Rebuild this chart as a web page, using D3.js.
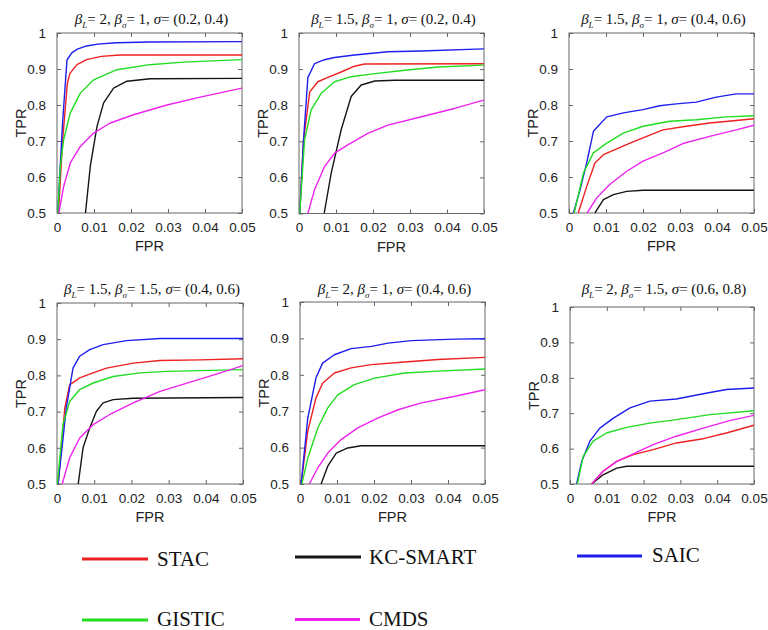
<!DOCTYPE html>
<html>
<head>
<meta charset="utf-8">
<script src="https://cdn.jsdelivr.net/npm/d3@7"></script>
<style>
  html, body { margin: 0; padding: 0; background: #fff; }
  svg { display: block; }
  .serif { font-family: "Liberation Serif", "DejaVu Serif", serif; }
  .sans { font-family: "Liberation Sans", Arial, sans-serif; }
</style>
</head>
<body>
<svg id="chart" width="768" height="630"></svg>
<script>
// ---------- DATA ----------
const methods = ["STAC", "KC-SMART", "SAIC", "GISTIC", "CMDS"];
const methodColors = ["#ee2020", "#151515", "#1e1eee", "#22dd22", "#ee22ee"];

const xTicks = [0, 0.01, 0.02, 0.03, 0.04, 0.05];
const xTickLabels = ["0", "0.01", "0.02", "0.03", "0.04", "0.05"];
const yTicks = [0.5, 0.6, 0.7, 0.8, 0.9, 1];
const yTickLabels = ["0.5", "0.6", "0.7", "0.8", "0.9", "1"];

// titles: [betaL, betaSigma, sigma]
const titleBetaL = ["2", "1.5", "1.5", "1.5", "2", "2"];
const titleBetaS = ["1", "1", "1", "1.5", "1", "1.5"];
const titleSigma = ["(0.2, 0.4)", "(0.2, 0.4)", "(0.4, 0.6)", "(0.4, 0.6)", "(0.4, 0.6)", "(0.6, 0.8)"];

// [FPR, TPR] per panel, series order = methods
const panel1 = [
  [[0.0004,0.5],[0.0015,0.70],[0.0028,0.86],[0.0035,0.888],[0.0054,0.912],[0.008,0.926],[0.012,0.935],[0.017,0.939],[0.05,0.939]],
  [[0.0077,0.5],[0.009,0.63],[0.0108,0.74],[0.0126,0.806],[0.0153,0.847],[0.0189,0.866],[0.0252,0.873],[0.05,0.874]],
  [[0.0002,0.5],[0.0015,0.75],[0.0027,0.925],[0.004,0.945],[0.0055,0.955],[0.008,0.964],[0.011,0.969],[0.016,0.973],[0.025,0.975],[0.05,0.976]],
  [[0.0002,0.5],[0.0009,0.63],[0.0018,0.704],[0.0036,0.778],[0.0063,0.833],[0.0099,0.87],[0.0162,0.898],[0.025,0.912],[0.0342,0.919],[0.05,0.926]],
  [[0.0005,0.5],[0.0018,0.574],[0.0036,0.639],[0.0063,0.685],[0.0099,0.722],[0.0144,0.75],[0.0207,0.773],[0.0297,0.80],[0.0387,0.822],[0.05,0.847]]
];
const panel2 = [
  [[0.0002,0.5],[0.0012,0.70],[0.0029,0.837],[0.0051,0.865],[0.0078,0.877],[0.0114,0.892],[0.015,0.908],[0.0177,0.914],[0.05,0.915]],
  [[0.0068,0.5],[0.0087,0.612],[0.0114,0.732],[0.0141,0.824],[0.0168,0.856],[0.0205,0.867],[0.0259,0.869],[0.05,0.869]],
  [[0.0002,0.5],[0.0012,0.70],[0.0024,0.877],[0.0042,0.915],[0.0069,0.926],[0.0096,0.932],[0.015,0.939],[0.024,0.948],[0.033,0.950],[0.05,0.956]],
  [[0.0002,0.5],[0.0015,0.704],[0.0033,0.787],[0.006,0.833],[0.0096,0.865],[0.0141,0.879],[0.0195,0.886],[0.0286,0.897],[0.0376,0.906],[0.05,0.911]],
  [[0.0024,0.5],[0.0042,0.566],[0.0069,0.63],[0.0096,0.667],[0.0132,0.69],[0.0186,0.722],[0.024,0.745],[0.0331,0.768],[0.042,0.791],[0.05,0.814]]
];
const panel3 = [
  [[0.0025,0.5],[0.0048,0.574],[0.007,0.639],[0.0093,0.662],[0.0129,0.678],[0.0165,0.694],[0.021,0.713],[0.0254,0.731],[0.0317,0.741],[0.038,0.75],[0.0452,0.757],[0.05,0.762]],
  [[0.007,0.5],[0.0093,0.537],[0.012,0.551],[0.0156,0.56],[0.02,0.563],[0.05,0.563]],
  [[0.0012,0.5],[0.003,0.565],[0.0048,0.64],[0.0066,0.727],[0.0102,0.767],[0.0147,0.778],[0.02,0.787],[0.0245,0.798],[0.029,0.803],[0.0344,0.808],[0.0398,0.822],[0.0452,0.831],[0.05,0.831]],
  [[0.0014,0.5],[0.0039,0.611],[0.0066,0.667],[0.0102,0.694],[0.0147,0.722],[0.02,0.741],[0.0272,0.755],[0.0344,0.759],[0.0425,0.767],[0.05,0.77]],
  [[0.0049,0.5],[0.0075,0.542],[0.011,0.579],[0.0156,0.616],[0.02,0.644],[0.0254,0.667],[0.0308,0.693],[0.038,0.713],[0.0452,0.731],[0.05,0.744]]
];
const panel4 = [
  [[0.0003,0.5],[0.0021,0.71],[0.0034,0.774],[0.0061,0.793],[0.0097,0.807],[0.0133,0.82],[0.0205,0.834],[0.0277,0.841],[0.0385,0.843],[0.05,0.846]],
  [[0.0057,0.5],[0.007,0.6],[0.0088,0.655],[0.0106,0.701],[0.0124,0.724],[0.0151,0.733],[0.0205,0.737],[0.05,0.739]],
  [[0.0003,0.5],[0.0025,0.71],[0.0043,0.82],[0.0061,0.853],[0.0088,0.871],[0.0124,0.885],[0.0187,0.896],[0.0277,0.902],[0.05,0.902]],
  [[0.0001,0.5],[0.0016,0.664],[0.0034,0.728],[0.0061,0.761],[0.0097,0.779],[0.0151,0.797],[0.0223,0.807],[0.0295,0.811],[0.05,0.816]],
  [[0.0014,0.5],[0.0034,0.572],[0.0061,0.627],[0.0097,0.664],[0.0142,0.692],[0.0205,0.724],[0.0277,0.756],[0.0367,0.784],[0.0439,0.807],[0.05,0.827]]
];
const panel5 = [
  [[0.0003,0.5],[0.0021,0.645],[0.0043,0.736],[0.0061,0.777],[0.0093,0.805],[0.0138,0.819],[0.0193,0.828],[0.0283,0.835],[0.0373,0.842],[0.05,0.848]],
  [[0.0057,0.5],[0.0075,0.549],[0.0098,0.585],[0.0129,0.599],[0.0165,0.605],[0.05,0.605]],
  [[0.0003,0.5],[0.0021,0.681],[0.0043,0.791],[0.0061,0.832],[0.0093,0.855],[0.0138,0.872],[0.0193,0.878],[0.0238,0.887],[0.0301,0.894],[0.0419,0.898],[0.05,0.899]],
  [[0.0005,0.5],[0.0021,0.571],[0.0048,0.654],[0.0075,0.709],[0.0102,0.745],[0.0147,0.773],[0.0202,0.791],[0.0283,0.805],[0.0373,0.81],[0.05,0.816]],
  [[0.0025,0.5],[0.0048,0.544],[0.0075,0.585],[0.0111,0.622],[0.0156,0.654],[0.021,0.681],[0.0265,0.704],[0.0328,0.723],[0.0419,0.741],[0.05,0.759]]
];
const panel6 = [
  [[0.0059,0.5],[0.009,0.536],[0.0127,0.564],[0.0172,0.583],[0.0226,0.597],[0.0289,0.616],[0.0362,0.628],[0.0425,0.644],[0.05,0.666]],
  [[0.0059,0.5],[0.009,0.526],[0.0127,0.545],[0.0154,0.55],[0.05,0.55]],
  [[0.0018,0.5],[0.0032,0.564],[0.0054,0.621],[0.0081,0.658],[0.0118,0.686],[0.0163,0.715],[0.0217,0.734],[0.0289,0.74],[0.0362,0.755],[0.0425,0.767],[0.05,0.771]],
  [[0.002,0.5],[0.0036,0.578],[0.0063,0.621],[0.0099,0.644],[0.0154,0.66],[0.0217,0.672],[0.0289,0.682],[0.038,0.696],[0.05,0.707]],
  [[0.0059,0.5],[0.009,0.536],[0.0127,0.564],[0.0172,0.585],[0.0226,0.611],[0.0289,0.635],[0.0362,0.658],[0.0434,0.679],[0.05,0.694]]
];
const panels = [panel1, panel2, panel3, panel4, panel5, panel6];

// ---------- LAYOUT ----------
const boxes = [
  {l: 57,  r: 242, t: 33,  b: 213, ty: 23.5},
  {l: 299, r: 484, t: 33,  b: 213.5, ty: 23.5},
  {l: 569, r: 754, t: 33,  b: 213, ty: 23.5},
  {l: 57,  r: 243, t: 303, b: 484, ty: 293.5},
  {l: 300, r: 485, t: 302, b: 484, ty: 293.5},
  {l: 570, r: 754, t: 307, b: 484, ty: 293.5}
];

const svg = d3.select("#chart");
svg.append("rect").attr("width", 768).attr("height", 630).attr("fill", "#fff");
const defs = svg.append("defs");
const frameColor = "#666";

panels.forEach((series, i) => {
  const bx = boxes[i];
  const x = d3.scaleLinear().domain([0, 0.05]).range([bx.l, bx.r]);
  const y = d3.scaleLinear().domain([0.5, 1]).range([bx.b, bx.t]);
  const g = svg.append("g");

  const clipId = "clip" + i;
  defs.append("clipPath").attr("id", clipId)
    .append("rect").attr("x", bx.l).attr("y", bx.t)
    .attr("width", bx.r - bx.l).attr("height", bx.b - bx.t);

  // axes (ticks inside, mirrored)
  const tl = 4;
  const axB = d3.axisBottom(x).tickValues(xTicks).tickSize(-tl).tickFormat((d, k) => xTickLabels[k]).tickPadding(tl + 5);
  const axT = d3.axisTop(x).tickValues(xTicks).tickSize(-tl).tickFormat("");
  const axL = d3.axisLeft(y).tickValues(yTicks).tickSize(-tl).tickFormat((d, k) => yTickLabels[k]).tickPadding(tl + 7);
  const axR = d3.axisRight(y).tickValues(yTicks).tickSize(-tl).tickFormat("");

  const gb = g.append("g").attr("transform", `translate(0,${bx.b})`).call(axB);
  const gt = g.append("g").attr("transform", `translate(0,${bx.t})`).call(axT);
  const gl = g.append("g").attr("transform", `translate(${bx.l},0)`).call(axL);
  const gr = g.append("g").attr("transform", `translate(${bx.r},0)`).call(axR);
  [gb, gt, gl, gr].forEach(a => {
    a.attr("font-family", null).attr("font-size", null);
    a.select(".domain").remove();
    a.selectAll(".tick line").attr("stroke", frameColor);
    a.selectAll("text").attr("class", "sans").style("font-size", "13.5px").attr("fill", "#222");
  });
  gb.selectAll("text").attr("dy", "0.71em");

  // frame
  g.append("rect").attr("x", bx.l).attr("y", bx.t)
    .attr("width", bx.r - bx.l).attr("height", bx.b - bx.t)
    .attr("fill", "none").attr("stroke", frameColor).attr("stroke-width", 1);

  // curves
  const line = d3.line().x(d => x(d[0])).y(d => y(d[1]));
  const cg = g.append("g").attr("clip-path", `url(#${clipId})`);
  series.forEach((pts, k) => {
    cg.append("path").attr("d", line(pts))
      .attr("fill", "none").attr("stroke", methodColors[k])
      .attr("stroke-width", 1.4).attr("stroke-linejoin", "round");
  });

  // axis labels
  const cx = (bx.l + bx.r) / 2, cy = (bx.t + bx.b) / 2;
  g.append("text").attr("class", "sans").attr("x", cx).attr("y", bx.b + 38)
    .attr("text-anchor", "middle").style("font-size", "14.5px")
    .attr("fill", "#222").text("FPR");
  g.append("text").attr("class", "sans").attr("transform", `translate(${bx.l - 31},${cy}) rotate(-90)`)
    .attr("text-anchor", "middle").style("font-size", "14.5px")
    .attr("fill", "#222").text("TPR");

  // title
  const t = g.append("text").attr("class", "serif").attr("x", cx + 2).attr("y", bx.ty)
    .attr("text-anchor", "middle").style("font-size", "15px")
    .attr("fill", "#111");
  t.append("tspan").attr("font-style", "italic").text("β");
  t.append("tspan").attr("font-style", "italic").style("font-size", "9px").attr("dy", 4).text("L");
  t.append("tspan").attr("dy", -4).text("= " + titleBetaL[i] + ", ");
  t.append("tspan").attr("font-style", "italic").text("β");
  t.append("tspan").attr("font-style", "italic").style("font-size", "9px").attr("dy", 4).text("σ");
  t.append("tspan").attr("dy", -4).text("= " + titleBetaS[i] + ", ");
  t.append("tspan").attr("font-style", "italic").text("σ");
  t.append("tspan").text("= " + titleSigma[i]);
});

// ---------- LEGEND ----------
const legendPos = [
  {x1: 82,  x2: 148, y: 559, tx: 157, ty: 566},
  {x1: 295, x2: 361, y: 557, tx: 369, ty: 563.5},
  {x1: 577, x2: 642, y: 556, tx: 652, ty: 562},
  {x1: 82,  x2: 148, y: 620, tx: 157, ty: 626},
  {x1: 295, x2: 360, y: 619.5, tx: 369, ty: 625.5}
];
const lg = svg.append("g");
methods.forEach((m, k) => {
  const p = legendPos[k];
  lg.append("line").attr("x1", p.x1).attr("x2", p.x2).attr("y1", p.y).attr("y2", p.y)
    .attr("stroke", methodColors[k]).attr("stroke-width", 3.2);
  lg.append("text").attr("class", "serif").attr("x", p.tx).attr("y", p.ty)
    .style("font-size", "21px").attr("fill", "#111").text(m);
});
</script>
</body>
</html>
